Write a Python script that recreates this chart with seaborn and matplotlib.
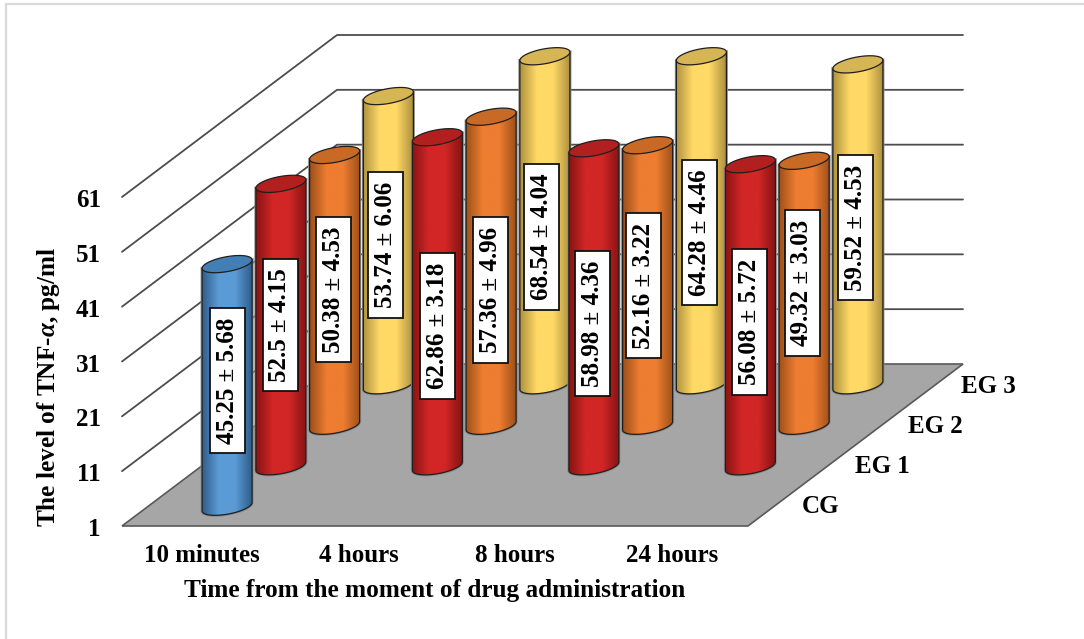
import numpy as np
import pandas as pd
import seaborn as sns
from matplotlib import pyplot as plt
from matplotlib.patches import Polygon, Rectangle

# values as printed on the bars (mean, sd), None where the group has no bar
times = ["10 minutes", "4 hours", "8 hours", "24 hours"]
groups = ["CG", "EG 1", "EG 2", "EG 3"]
cg_mean = [45.25, None, None, None]
cg_sd = [5.68, None, None, None]
eg1_mean = [52.5, 62.86, 58.98, 56.08]
eg1_sd = [4.15, 3.18, 4.36, 5.72]
eg2_mean = [50.38, 57.36, 52.16, 49.32]
eg2_sd = [4.53, 4.96, 3.22, 3.03]
eg3_mean = [53.74, 68.54, 64.28, 59.52]
eg3_sd = [6.06, 4.04, 4.46, 4.53]
y_ticks = [1, 11, 21, 31, 41, 51, 61]
y_title = r"The level of TNF-$\mathit{\alpha}$, pg/ml"
x_title = "Time from the moment of drug administration"

# label box centres in the picture, they were placed by hand in the original
label_x = [[227.5], [280, 437, 592.5, 749], [333.5, 490.5, 643, 802], [385.5, 541, 699.5, 855]]
label_y = [[380.5], [325, 326, 323.5, 322], [289.5, 290, 285.5, 283], [245, 237, 232.5, 227.5]]

colors = ["#5b9bd5", "#d22626", "#ed7d31", "#ffd966"]
edges = ["#2f5f8c", "#8a1414", "#a0511a", "#b0933f"]
tops = ["#437fb4", "#b21f1f", "#c86a25", "#d6b554"]

# pixel layout of the fake 3d box
W, H = 1084, 639
LEFT, RIGHT, FLOOR = 122, 748, 526
DX, DY = 215, 162
PX_UNIT = 329 / (y_ticks[-1] - y_ticks[0])
BAR_A, BAR_B, BAR_S = 25, 7.5, 4.2

means = [cg_mean, eg1_mean, eg2_mean, eg3_mean]
sds = [cg_sd, eg1_sd, eg2_sd, eg3_sd]
rows = []
for g, m, s in zip(groups, means, sds):
    for t, a, b in zip(times, m, s):
        if a is not None:
            rows.append({"group": g, "time": t, "mean": a, "sd": b})
df = pd.DataFrame(rows)
df["level"] = df["mean"].clip(upper=y_ticks[-1])  # axis stops the cylinders at 61

sns.set_theme(style="white")
plt.rcParams["font.family"] = ["Liberation Serif", "DejaVu Sans"]
plt.rcParams["font.weight"] = "bold"
plt.rcParams["text.color"] = "black"
plt.rcParams["mathtext.fontset"] = "custom"
plt.rcParams["mathtext.it"] = "Liberation Serif:italic:bold"
plt.rcParams["mathtext.rm"] = "Liberation Serif:bold"

fig = plt.figure(figsize=(W / 100, H / 100), dpi=100)
main = fig.add_axes([0, 0, 1, 1], zorder=0)
main.set_xlim(0, W)
main.set_ylim(H, 0)
main.set_axis_off()
renderer = fig.canvas.get_renderer()

# picture frame left over from the page
main.plot([6, W], [4, 4], color="#d9d9d9", lw=1.6)
main.plot([6, 6], [4, H], color="#d9d9d9", lw=1.6)

# floor
main.add_patch(Polygon([(LEFT, FLOOR), (RIGHT, FLOOR), (RIGHT + DX, FLOOR - DY), (LEFT + DX, FLOOR - DY)],
                       facecolor="#a6a6a6", edgecolor="#595959", lw=1.2))

# walls, grid and value labels
for v in y_ticks:
    y = FLOOR - (v - y_ticks[0]) * PX_UNIT
    if v != y_ticks[0]:
        main.plot([LEFT, LEFT + DX, RIGHT + DX], [y, y - DY, y - DY], color="#4d4d4d", lw=1.3)
    main.text(101, y + 3.5, str(v), ha="right", va="center", fontsize=18)

step = (RIGHT - LEFT) / len(times)
for i, t in enumerate(times):
    main.text(LEFT + step * (i + 0.5) + 2, 555, t, ha="center", va="center", fontsize=18)
for d, g in enumerate(groups):
    main.text(802 + d * 53, 506.5 - d * 40, g, ha="left", va="center", fontsize=18)
main.text(435, 591, x_title, ha="center", va="center", fontsize=18.2)
main.text(49, 387, y_title, ha="center", va="center", rotation=90, fontsize=18.2)


def ellipse(cx, cy, ts, ux, uy):
    x = cx + BAR_A * np.cos(ts) * ux
    y = cy + (BAR_S * np.cos(ts) + BAR_B * np.sin(ts)) * uy
    return np.column_stack([x, y])


# one transparent axes per depth row, back row first
for d in range(len(groups) - 1, -1, -1):
    g = groups[d]
    base = FLOOR - DY / len(groups) * (d + 0.5) + 1
    shift = DX / len(groups) * (d + 0.5)
    ax = fig.add_axes([(LEFT + shift) / W, 1 - base / H, (RIGHT - LEFT) / W, 329 / H], zorder=len(groups) - d)
    sub = df[df["group"] == g]
    sns.barplot(data=sub, x="time", y="level", order=times, color=colors[d], saturation=1,
                width=2 * BAR_A / step, errorbar=None, ax=ax)
    ax.set_xlim(-0.5, len(times) - 0.5)
    ax.set_ylim(y_ticks[0], y_ticks[-1])
    ax.set_axis_off()
    ux, uy = 1 / step, 1 / PX_UNIT
    shade = sns.blend_palette([edges[d], colors[d], colors[d], edges[d]], n_colors=64, as_cmap=True)

    bars = [p for p in ax.patches if np.isfinite(p.get_height())]
    for n, bar in enumerate(bars):
        cx = bar.get_x() + bar.get_width() / 2
        top = bar.get_height()
        half = bar.get_width() / 2
        low = ellipse(cx, y_ticks[0], np.linspace(np.pi, 2 * np.pi, 40), ux, uy)
        body = np.vstack([[[cx - half, top - BAR_S * uy]], low, [[cx + half, top + BAR_S * uy]]])
        outline = Polygon(body, closed=True, facecolor="none", edgecolor="#8c8c8c", lw=2.2, clip_on=False, zorder=1)
        ax.add_patch(outline)
        clip = Polygon(body, closed=True, facecolor="none", edgecolor="none", transform=ax.transData)
        ax.add_patch(clip)
        bar.set_clip_box(fig.bbox)
        bar.set_clip_path(clip)
        bar.set_zorder(2)
        img = ax.imshow(np.linspace(0, 1, 64)[None, :], cmap=shade, aspect="auto", zorder=3,
                        extent=(cx - half, cx + half, y_ticks[0] - 12 * uy, top + 12 * uy))
        img.set_clip_box(fig.bbox)
        img.set_clip_path(clip)
        ax.add_patch(Polygon(body, closed=True, facecolor="none", edgecolor="#1f1f1f", lw=0.9, clip_on=False, zorder=4))
        cap = ellipse(cx, top, np.linspace(0, 2 * np.pi, 80), ux, uy)
        ax.add_patch(Polygon(cap, closed=True, facecolor=tops[d], edgecolor="#1f1f1f", lw=0.9, clip_on=False, zorder=5))

        row = sub.iloc[n]
        lx, ly = label_x[d][n], label_y[d][n]
        txt = ax.text(lx, ly, f"{row['mean']:g} ± {row['sd']:g}", transform=main.transData,
                      rotation=90, ha="center", va="center", fontsize=18, zorder=7)
        long_side = txt.get_window_extent(renderer).height + 19
        ax.add_patch(Rectangle((lx - 17.5, ly - long_side / 2), 35, long_side, transform=main.transData,
                               facecolor="white", edgecolor="#111111", lw=1.3, clip_on=False, zorder=6))
    ax.set_xlim(-0.5, len(times) - 0.5)
    ax.set_ylim(y_ticks[0], y_ticks[-1])

fig.savefig("out.png", dpi=100)
